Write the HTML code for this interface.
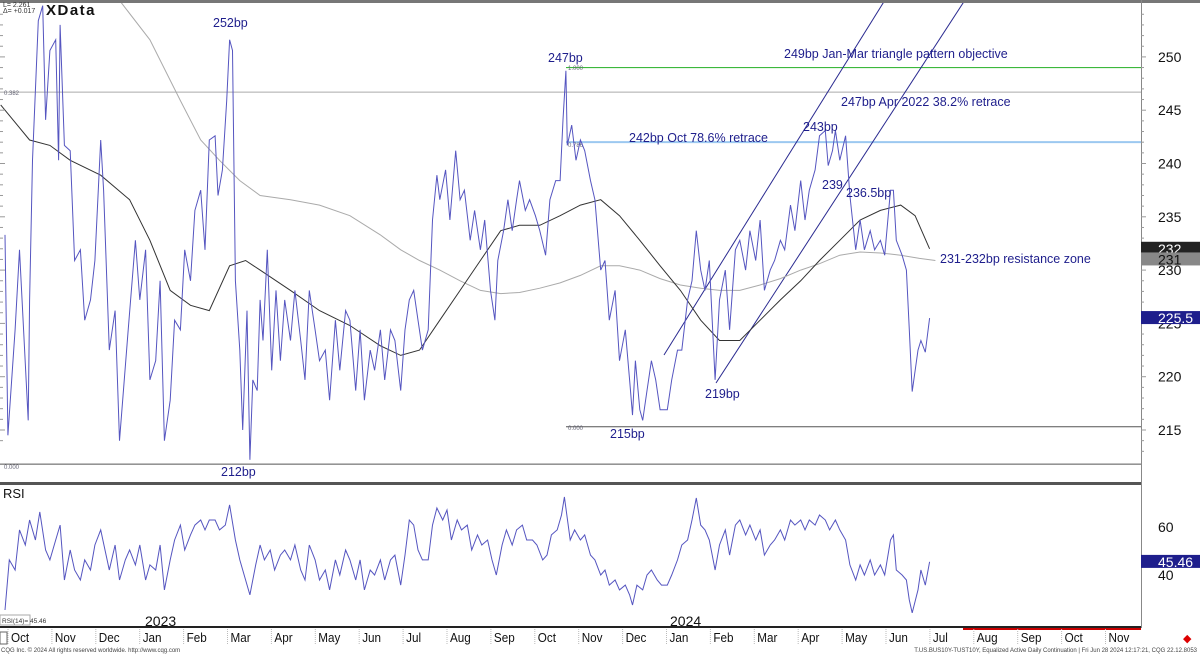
<!DOCTYPE html>
<html><head><meta charset="utf-8"><style>
html,body{margin:0;padding:0;background:#fff;width:1200px;height:654px;overflow:hidden}
svg{display:block;font-family:"Liberation Sans",sans-serif}
</style></head><body>
<svg id="chart" width="1200" height="654">
<rect x="0" y="0" width="1200" height="654" fill="#fff"/>
<g id="grid"></g>
<g id="marks"></g>
<g id="axes"></g>
</svg>
<script>
const priceDays=[0,2,7,10,16,17,19,23,26,28,31,35,37,38,41,45,48,52,55,59,62,66,68,72,76,79,85,90,93,97,100,104,107,110,114,117,121,124,128,131,135,138,141,145,147,150,153,155,157,159,162,164,167,169,171,174,176,178,181,184,187,190,193,197,200,204,207,210,214,217,221,224,228,231,235,238,242,245,248,252,255,259,262,266,269,273,276,279,282,285,288,292,295,298,300,304,307,311,314,317,321,324,328,331,335,338,340,344,347,350,353,355,359,362,366,369,373,376,380,383,385,387,388,391,394,397,400,404,407,411,414,417,421,424,428,431,433,435,438,440,443,446,449,452,457,460,464,467,471,474,477,480,483,486,490,493,497,500,504,507,511,514,518,521,524,528,531,535,538,542,545,549,552,555,559,562,566,568,571,573,576,580,583,587,590,593,597,600,604,607,611,613,615,619,622,624,626,630,632,635,638];
const priceVals=[233.3,214.5,224.4,231.9,215.9,227.2,240.3,253.4,254.8,244.1,250.6,251.6,240.3,253.0,241.7,241.2,230.9,231.9,225.3,227.2,230.9,242.2,237.5,222.5,226.2,214.0,224.4,232.8,227.2,231.9,219.7,221.5,229.0,214.0,217.8,225.3,224.4,231.9,229.0,235.6,237.5,231.9,242.2,242.6,237.0,239.4,245.9,251.6,250.6,229.0,222.5,215.0,226.2,212.2,219.7,218.7,227.2,223.4,231.9,220.6,228.1,221.5,227.2,223.4,228.1,223.4,219.7,228.1,224.4,221.5,222.5,217.8,225.3,220.6,226.2,225.3,218.7,224.4,217.8,222.5,220.6,224.4,219.7,224.4,223.4,218.7,224.4,227.2,228.1,225.3,222.5,224.4,234.7,238.9,236.6,239.4,234.7,241.2,236.6,237.5,232.8,235.6,231.9,234.7,228.1,225.3,230.9,233.7,236.6,233.7,236.6,238.4,235.6,236.6,235.1,233.7,231.4,236.6,238.4,238.4,244.1,248.7,241.7,243.6,240.3,242.2,241.2,238.4,236.6,230.0,230.9,225.3,228.1,221.5,224.4,219.7,216.4,221.5,216.9,215.9,218.7,221.5,219.7,216.9,216.9,219.7,222.5,222.5,227.2,229.0,233.7,230.0,228.1,230.9,219.7,227.2,230.0,224.4,231.9,232.8,230.0,233.7,230.9,234.7,228.1,230.0,230.9,232.8,231.9,236.1,233.7,238.4,234.7,237.5,239.4,242.6,243.1,239.8,241.2,243.1,240.3,242.6,237.0,231.9,234.7,231.9,233.7,231.9,232.8,231.4,237.5,237.5,232.8,231.4,230.0,224.4,218.6,222.5,223.4,222.3,225.5];
const maShortDays=[-3,17,31,45,66,86,100,114,128,141,155,166,176,197,217,238,259,273,286,300,314,328,342,355,369,383,397,411,424,438,452,466,480,493,507,521,535,549,562,576,590,604,618,628,638];
const maShortVals=[245.5,242.2,241.7,240.3,238.9,236.6,232.8,228.1,226.7,226.2,230.4,230.9,230.0,228.1,226.2,224.8,222.9,222.0,222.5,225.3,228.1,230.9,233.7,234.2,234.2,235.1,236.1,236.6,235.1,232.8,230.4,228.1,225.3,223.4,223.4,225.3,227.2,229.0,230.9,232.8,234.7,235.6,236.1,235.1,232.0];
const maLongDays=[79,100,121,135,148,162,176,197,217,238,259,273,286,300,314,328,342,355,369,383,397,411,424,438,452,466,480,493,507,521,535,549,562,576,590,604,618,631,642];
const maLongVals=[255.3,251.6,245.9,242.2,240.3,238.4,237.0,236.6,236.1,235.1,233.3,231.9,230.9,230.0,229.0,228.1,227.8,227.9,228.3,228.8,229.5,230.4,230.4,230.0,229.2,228.6,228.3,228.1,228.1,228.6,229.2,230.0,230.6,231.4,231.7,231.6,231.4,231.1,230.9];
const rsiDays=[0,3,7,10,14,17,21,24,28,31,35,38,41,45,48,52,55,59,62,66,69,72,76,79,83,86,90,93,97,100,104,107,110,114,117,121,124,128,131,135,138,141,145,148,152,155,159,162,166,169,173,176,179,183,186,190,193,197,200,204,207,210,214,217,221,224,228,231,235,238,242,245,248,252,255,259,262,266,269,273,276,279,282,285,288,292,295,298,302,305,308,312,315,319,322,326,329,333,336,339,343,346,350,353,357,360,364,367,371,374,377,381,384,386,390,393,397,400,404,407,411,414,417,421,424,428,431,433,436,440,443,446,450,453,457,460,464,467,471,474,477,480,483,486,490,493,497,500,504,507,511,514,518,521,524,528,531,535,538,542,545,549,552,555,559,562,566,569,573,576,580,583,587,590,593,597,600,604,607,611,613,615,619,622,624,626,630,632,635,638];
const rsiVals=[25.4,46.3,42.1,58.8,52.5,62.9,54.6,66.3,50.4,46.3,54.6,60.8,37.9,50.4,42.1,37.9,46.3,42.1,52.5,58.8,50.4,42.1,52.5,37.9,46.3,50.4,44.2,52.5,37.9,44.2,42.1,52.5,33.8,46.3,54.6,60.8,50.4,56.7,60.8,62.9,58.8,62.9,62.9,58.8,60.8,69.2,54.6,46.3,37.9,31.7,44.2,52.5,46.3,50.4,42.1,48.3,50.4,46.3,52.5,42.1,37.9,52.5,46.3,37.9,42.1,33.8,46.3,40.0,50.4,46.3,37.9,46.3,33.8,42.1,40.0,46.3,37.9,46.3,48.3,35.8,48.3,62.9,60.8,50.4,46.3,46.3,60.8,67.9,62.9,67.1,54.6,62.9,58.8,60.8,50.4,56.7,52.5,54.6,46.3,40.0,52.5,58.8,52.5,58.8,60.8,54.6,54.6,52.5,46.3,48.3,56.7,58.8,65.0,72.5,54.6,58.8,54.6,56.7,48.3,46.3,40.0,42.1,35.8,37.9,33.8,35.8,31.7,27.5,35.8,33.8,40.0,42.1,37.9,35.8,35.8,40.0,46.3,52.5,54.6,62.9,72.1,60.8,58.8,54.6,42.1,52.5,58.8,48.3,60.8,62.9,56.7,60.8,54.6,58.8,48.3,52.5,54.6,58.8,54.6,62.9,60.8,62.9,58.8,62.9,60.8,65.0,62.9,58.8,62.9,58.8,54.6,44.2,37.9,44.2,40.0,46.3,40.0,44.2,40.0,54.6,56.7,42.1,40.0,37.9,29.6,24.2,33.8,42.1,35.8,45.5];
const priceTicks=[250,245,240,235,230,225,220,215];
const rsiTicks=[60,40];
const monthLabels=["Oct","Nov","Dec","Jan","Feb","Mar","Apr","May","Jun","Jul","Aug","Sep","Oct","Nov","Dec","Jan","Feb","Mar","Apr","May","Jun","Jul","Aug","Sep","Oct","Nov"];
const levelVals=[249,246.7,242,215.3,211.8];

const NS="http://www.w3.org/2000/svg";
const X0=5,PX=1/0.69;
const xS=d=>X0+d*PX;
const yP=v=>430-(v-215)*10.66;
const yR=v=>575-(v-40)*2.4;
function el(tag,attrs,parent,text){const e=document.createElementNS(NS,tag);for(const k in attrs)e.setAttribute(k,attrs[k]);if(text!==undefined)e.textContent=text;parent.appendChild(e);return e;}
const grid=document.getElementById('grid'),marks=document.getElementById('marks'),axes=document.getElementById('axes');

const defs=el('defs',{},document.getElementById('chart'));
const c1=el('clipPath',{id:'cp1'},defs);el('rect',{x:0,y:3,width:1141,height:479},c1);
const c2=el('clipPath',{id:'cp2'},defs);el('rect',{x:0,y:486,width:1141,height:140},c2);

const lvColors=['#3cb83c','#aaaaaa','#9cc8f0','#555555','#555555'];
const lvStart=[566,0,566,566,0];
const lvW=[1.2,1,2,1,1];
for(let i=0;i<levelVals.length;i++){
  const l=el('line',{x1:lvStart[i],x2:1141,y1:yP(levelVals[i]),y2:yP(levelVals[i]),stroke:lvColors[i],'stroke-width':lvW[i]},grid);
  
  
}
[['0.382',4,95],['1.000',568,70],['0.786',568,147],['0.000',568,430],['0.000',4,469]].forEach(t=>{const e=el('text',{x:t[1],y:t[2],'font-size':6,fill:'#667'},grid,t[0]);});

const ch=el('g',{'clip-path':'url(#cp1)'},marks);
[[664,355,885,0],[716,383,965,0]].forEach((c,i)=>{const l=el('line',{x1:c[0],y1:c[1],x2:c[2],y2:c[3],stroke:'#2a2a90','stroke-width':1},ch);});

function path(days,vals,ys,color,w,parent,name){
  const n=Math.min(days.length,vals.length);let d='';
  for(let i=0;i<n;i++)d+=(i?'L':'M')+xS(days[i]).toFixed(1)+','+ys(vals[i]).toFixed(1);
  const p=el('path',{d:d,fill:'none',stroke:color,'stroke-width':w},parent);
  
  
}
const g1=el('g',{'clip-path':'url(#cp1)'},marks);
path(maLongDays,maLongVals,yP,'#aaaaaa',1,g1,'ma-long-line');
path(maShortDays,maShortVals,yP,'#333333',1,g1,'ma-short-line');
path(priceDays,priceVals,yP,'#5555c0',1,g1,'price-line');
const g2=el('g',{'clip-path':'url(#cp2)'},marks);
path(rsiDays,rsiVals,yR,'#5555c0',1,g2,'rsi-line');

const ann=[['252bp',213,27],['247bp',548,62],['249bp Jan-Mar triangle pattern objective',784,58],['247bp Apr 2022 38.2% retrace',841,106],['242bp Oct 78.6% retrace',629,142],['243bp',803,131],['239',822,189],['236.5bp',846,197],['231-232bp resistance zone',940,263],['219bp',705,398],['215bp',610,438],['212bp',221,476]];
ann.forEach(a=>{const t=el('text',{x:a[1],y:a[2],'font-size':12.5,fill:'#1e1e8c'},marks,a[0]);});

el('rect',{x:0,y:0,width:1200,height:3,fill:'#777'},axes);
el('line',{x1:1141.5,y1:0,x2:1141.5,y2:628,stroke:'#888','stroke-width':1},axes);
el('rect',{x:0,y:482,width:1141,height:3,fill:'#555'},axes);
el('rect',{x:0,y:626,width:1141,height:2,fill:'#222'},axes);
el('rect',{x:963,y:628,width:178,height:2,fill:'#c00'},axes);
for(let v=214;v<=254;v++){el('line',{x1:0,x2:v%5==0?5:3,y1:yP(v),y2:yP(v),stroke:'#999'},axes);}
for(let v=213;v<=254;v++){el('line',{x1:1141,x2:v%5==0?1146:1144,y1:yP(v),y2:yP(v),stroke:'#999'},axes);}
priceTicks.forEach(v=>{const t=el('text',{x:1158,y:yP(v)+5,'font-size':14,fill:'#111'},axes,v);});
rsiTicks.forEach(v=>{const t=el('text',{x:1158,y:yR(v)+5,'font-size':14,fill:'#111'},axes,v);});
function tag(v,ys,bg,fg,label,name){const y=ys(v);const r=el('rect',{x:1141,y:y-7,width:59,height:13,fill:bg},axes);el('text',{x:1158,y:y+5,'font-size':14,fill:fg},axes,label);}
tag(232,yP,'#222','#fff','232','tag-232');
tag(231,yP,'#888','#111','231','tag-231');
tag(225.5,yP,'#1e1e8c','#fff','225.5','tag-last-price');
tag(45.46,yR,'#1e1e8c','#fff','45.46','tag-rsi');
el('text',{x:3,y:7,'font-size':7,fill:'#333'},axes,'L=     2.261');
el('text',{x:3,y:13,'font-size':7,fill:'#333'},axes,'Δ=   +0.017');
const xt=el('text',{x:46,y:15,'font-size':15,'font-weight':'bold',fill:'#111','letter-spacing':'1.5'},axes,'XData');
el('text',{x:3,y:498,'font-size':13,fill:'#111'},axes,'RSI');
el('rect',{x:0,y:615,width:30,height:10,fill:'#fff',stroke:'#aaa'},axes);
el('text',{x:2,y:623,'font-size':6.5,fill:'#333'},axes,'RSI(14)=  45.46');
el('text',{x:145,y:626,'font-size':14,fill:'#111'},axes,'2023');
el('text',{x:670,y:626,'font-size':14,fill:'#111'},axes,'2024');
for(let i=0;i<monthLabels.length;i++){
  const x=8+i*43.9;
  el('line',{x1:x,x2:x,y1:629,y2:645,stroke:'#bbb','stroke-dasharray':'1,1'},axes);
  const t=el('text',{x:x+3,y:642,'font-size':13,fill:'#111',transform:'translate('+(x+3)+',0) scale(0.9,1) translate('+(-(x+3))+',0)'},axes,monthLabels[i]);
  
  
}
el('rect',{x:0,y:632,width:7,height:12,fill:'#fff',stroke:'#666'},axes);
el('text',{x:1183,y:642,'font-size':11,fill:'#d00'},axes,'◆');
el('text',{x:1,y:652,'font-size':6,fill:'#444'},axes,'CQG Inc. © 2024 All rights reserved worldwide. http://www.cqg.com');
el('text',{x:1197,y:652,'font-size':6,fill:'#444','text-anchor':'end'},axes,'T.US.BUS10Y-TUST10Y, Equalized Active Daily Continuation | Fri Jun 28 2024 12:17:21, CQG 22.12.8053');
</script>
</body></html>
